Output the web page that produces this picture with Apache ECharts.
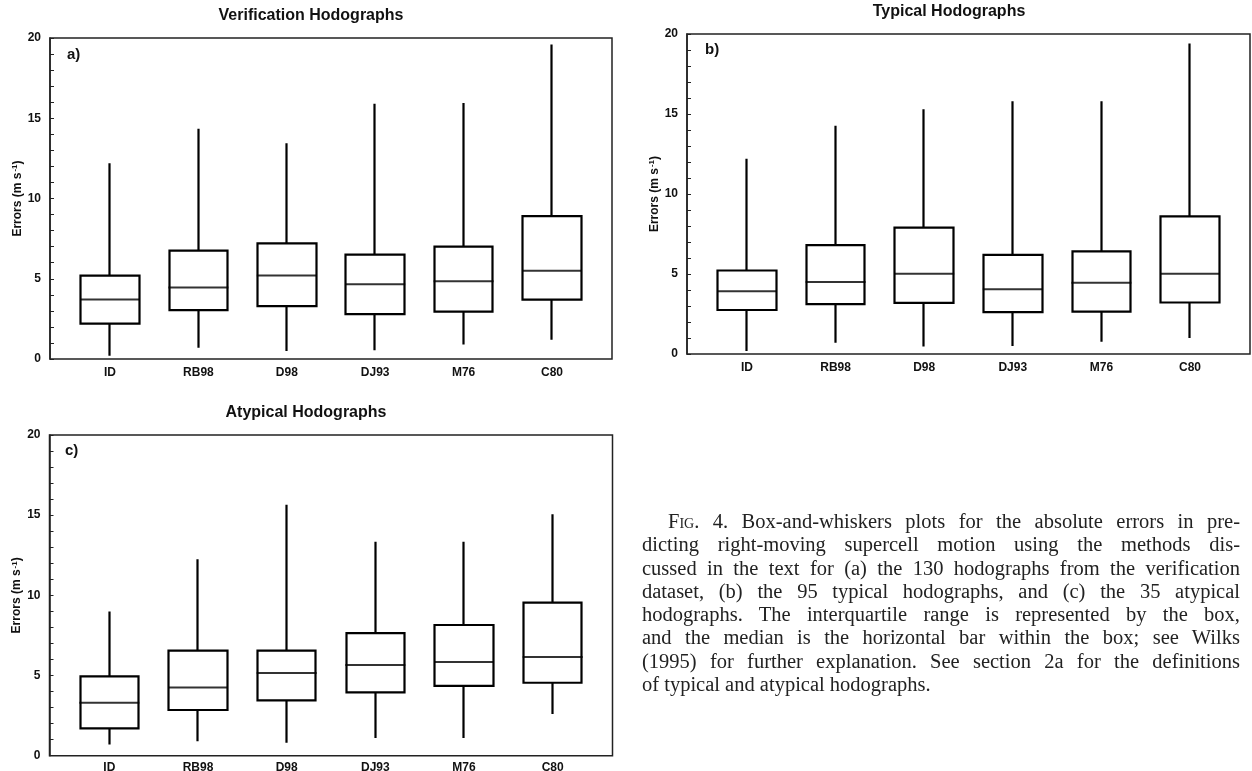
<!DOCTYPE html>
<html>
<head>
<meta charset="utf-8">
<script src="https://cdn.jsdelivr.net/npm/echarts@6/dist/echarts.min.js"></script>
<style>
  html, body { margin: 0; padding: 0; background: #fff; }
  #chart { width: 1252px; height: 771px; }
  #caption {
    position: absolute; left: 642px; top: 510px; width: 598px;
    font-family: "Liberation Serif", serif; font-size: 20.5px; line-height: 23.3px; color: #222;
  }
  #caption .ln { text-align: justify; text-align-last: justify; }
  #caption .first { text-indent: 26px; }
  #caption .last { text-align: left; text-align-last: left; }
</style>
</head>
<body>
<div id="chart"></div>
<div id="caption">
  <div class="ln first"><span style="font-variant: small-caps">Fig</span>. 4. Box-and-whiskers plots for the absolute errors in pre-</div>
  <div class="ln">dicting right-moving supercell motion using the methods dis-</div>
  <div class="ln">cussed in the text for (a) the 130 hodographs from the verification</div>
  <div class="ln">dataset, (b) the 95 typical hodographs, and (c) the 35 atypical</div>
  <div class="ln">hodographs. The interquartile range is represented by the box,</div>
  <div class="ln">and the median is the horizontal bar within the box; see Wilks</div>
  <div class="ln">(1995) for further explanation. See section 2a for the definitions</div>
  <div class="ln last">of typical and atypical hodographs.</div>
</div>
<script>
// methods on the x axis
const methods = ['ID', 'RB98', 'D98', 'DJ93', 'M76', 'C80'];
const yTicks = [0, 5, 10, 15, 20];

// a) verification hodographs
const verMin = [0.2, 0.7, 0.5, 0.55, 0.9, 1.2];
const verQ1  = [2.2, 3.05, 3.3, 2.8, 2.95, 3.7];
const verMed = [3.7, 4.45, 5.2, 4.65, 4.85, 5.5];
const verQ3  = [5.2, 6.75, 7.2, 6.5, 7.0, 8.9];
const verMax = [12.2, 14.35, 13.45, 15.9, 15.95, 19.6];

// b) typical hodographs
const typMin = [0.18, 0.7, 0.47, 0.5, 0.77, 1.0];
const typQ1  = [2.75, 3.12, 3.2, 2.62, 2.65, 3.22];
const typMed = [3.92, 4.5, 5.02, 4.05, 4.45, 5.02];
const typQ3  = [5.22, 6.8, 7.9, 6.2, 6.42, 8.6];
const typMax = [12.2, 14.26, 15.3, 15.8, 15.8, 19.4];

// c) atypical hodographs
const atyMin = [0.7, 0.9, 0.8, 1.1, 1.1, 2.6];
const atyQ1  = [1.7, 2.85, 3.45, 3.95, 4.35, 4.55];
const atyMed = [3.3, 4.25, 5.15, 5.65, 5.85, 6.15];
const atyQ3  = [4.95, 6.55, 6.55, 7.65, 8.15, 9.55];
const atyMax = [9.0, 12.25, 15.65, 13.35, 13.35, 15.05];

const FONT = 'Liberation Sans';
const INK = '#111';

// frame = outer box, inner = band area for the boxes
const panels = [
  { frame: { left: 50, top: 38, width: 562, height: 321 }, inner: { left: 65.8, width: 530.4 }, labelGap: 8,
    q1: verQ1, q3: verQ3, lo: verMin, hi: verMax, med: verMed },
  { frame: { left: 687, top: 34, width: 563, height: 320 }, inner: { left: 702.7, width: 531.6 }, labelGap: 8,
    q1: typQ1, q3: typQ3, lo: typMin, hi: typMax, med: typMed },
  { frame: { left: 49.5, top: 435, width: 563, height: 320.7 }, inner: { left: 65, width: 532 }, labelGap: 6,
    q1: atyQ1, q3: atyQ3, lo: atyMin, hi: atyMax, med: atyMed }
];

const grid = [], xAxis = [], yAxis = [], series = [];

panels.forEach((p, i) => {
  const fi = i * 2, bi = i * 2 + 1;
  grid.push({
    left: p.frame.left, top: p.frame.top, width: p.frame.width, height: p.frame.height,
    show: true, borderColor: '#222', borderWidth: 1.5, backgroundColor: 'transparent',
    containLabel: false, outerBoundsMode: 'none'
  });
  grid.push({
    left: p.inner.left, top: p.frame.top, width: p.inner.width, height: p.frame.height,
    containLabel: false, outerBoundsMode: 'none'
  });

  xAxis.push({ gridIndex: fi, type: 'value', show: false, min: 0, max: 1 });
  xAxis.push({
    gridIndex: bi, type: 'category', data: methods, boundaryGap: true,
    axisLine: { show: false }, axisTick: { show: false }, splitLine: { show: false },
    axisLabel: { interval: 0, margin: p.labelGap, color: INK, fontFamily: FONT, fontWeight: 'bold', fontSize: 12 }
  });

  yAxis.push({
    gridIndex: fi, type: 'value', min: yTicks[0], max: yTicks[yTicks.length - 1], interval: 5,
    name: 'Errors (m s{sup|-1})', nameLocation: 'middle', nameGap: 26,
    nameTextStyle: {
      color: INK, fontFamily: FONT, fontWeight: 'bold', fontSize: 12,
      rich: { sup: { fontSize: 8, fontFamily: FONT, fontWeight: 'bold', color: INK, verticalAlign: 'top', padding: [0, 0, 5, 1] } }
    },
    axisLine: { show: true, lineStyle: { color: '#222', width: 1.5 } },
    axisTick: { show: true, inside: true, length: 4, lineStyle: { color: '#222', width: 1 } },
    minorTick: { show: true, splitNumber: 5, length: 4, lineStyle: { color: '#222', width: 1 } },
    splitLine: { show: false },
    axisLabel: { margin: 9, color: INK, fontFamily: FONT, fontWeight: 'bold', fontSize: 12 }
  });
  yAxis.push({ gridIndex: bi, type: 'value', min: 0, max: 20, show: false });

  // box from Q1 to Q3, whiskers to min / max (no end caps)
  series.push({
    type: 'candlestick', xAxisIndex: bi, yAxisIndex: bi, barWidth: 59,
    animation: false, silent: true,
    itemStyle: { color: '#fff', color0: '#fff', borderColor: '#000', borderColor0: '#000', borderWidth: 2.2 },
    data: methods.map((m, k) => [p.q1[k], p.q3[k], p.lo[k], p.hi[k]])
  });
  // median bar
  series.push({
    type: 'scatter', xAxisIndex: bi, yAxisIndex: bi, symbol: 'rect', symbolSize: [60, 2],
    animation: false, silent: true, z: 5,
    itemStyle: { color: '#000' },
    data: p.med
  });
});

const titleStyle = { color: INK, fontFamily: FONT, fontWeight: 'bold', fontSize: 16 };
const tagStyle = { color: INK, fontFamily: FONT, fontWeight: 'bold', fontSize: 15 };

const chart = echarts.init(document.getElementById('chart'));
chart.setOption({
  animation: false,
  title: [
    { text: 'Verification Hodographs', left: 311, top: 8, textAlign: 'center', padding: 0, textStyle: titleStyle },
    { text: 'Typical Hodographs', left: 949, top: 4, textAlign: 'center', padding: 0, textStyle: titleStyle },
    { text: 'Atypical Hodographs', left: 306, top: 405, textAlign: 'center', padding: 0, textStyle: titleStyle },
    { text: 'a)', left: 67, top: 47, padding: 0, textStyle: tagStyle },
    { text: 'b)', left: 705, top: 42, padding: 0, textStyle: tagStyle },
    { text: 'c)', left: 65, top: 443, padding: 0, textStyle: tagStyle }
  ],
  grid: grid,
  xAxis: xAxis,
  yAxis: yAxis,
  series: series
});
</script>
</body>
</html>
